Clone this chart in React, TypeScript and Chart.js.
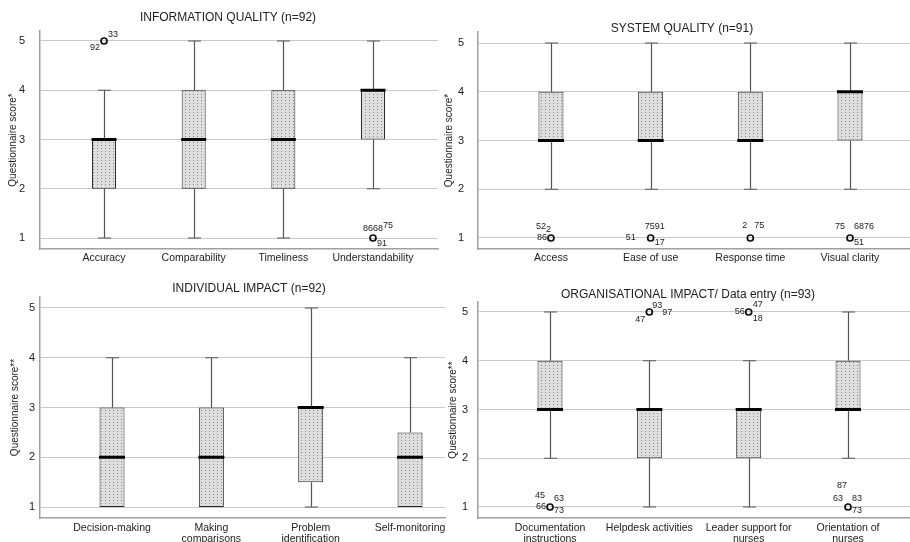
import React, { useEffect, useRef } from 'react';
import { Chart, registerables } from 'chart.js';

Chart.register(...registerables);

const FONT = '"Liberation Sans", Arial, Helvetica, sans-serif';

// ---------- Panel 1: INFORMATION QUALITY ----------
const IQ_TITLE = 'INFORMATION QUALITY (n=92)';
const IQ_Y_TITLE = 'Questionnaire score*';
const IQ_CATEGORIES = ['Accuracy', 'Comparability', 'Timeliness', 'Understandability'];
const IQ_MIN = [1, 1, 1, 2];
const IQ_Q1 = [2, 2, 2, 3];
const IQ_MEDIAN = [3, 3, 3, 4];
const IQ_Q3 = [3, 4, 4, 4];
const IQ_MAX = [4, 5, 5, 5];
const IQ_OUTLIERS = [
  { cat: 0, value: 5, ids: ['92', '33'] },
  { cat: 3, value: 1, ids: ['86', '68', '75', '91'] },
];

// ---------- Panel 2: SYSTEM QUALITY ----------
const SQ_TITLE = 'SYSTEM QUALITY (n=91)';
const SQ_Y_TITLE = 'Questionnaire score*';
const SQ_CATEGORIES = ['Access', 'Ease of use', 'Response time', 'Visual clarity'];
const SQ_MIN = [2, 2, 2, 2];
const SQ_Q1 = [3, 3, 3, 3];
const SQ_MEDIAN = [3, 3, 3, 4];
const SQ_Q3 = [4, 4, 4, 4];
const SQ_MAX = [5, 5, 5, 5];
const SQ_OUTLIERS = [
  { cat: 0, value: 1, ids: ['52', '2', '86'] },
  { cat: 1, value: 1, ids: ['51', '75', '91', '17'] },
  { cat: 2, value: 1, ids: ['2', '75'] },
  { cat: 3, value: 1, ids: ['75', '68', '76', '51'] },
];

// ---------- Panel 3: INDIVIDUAL IMPACT ----------
const II_TITLE = 'INDIVIDUAL IMPACT (n=92)';
const II_Y_TITLE = 'Questionnaire score**';
const II_CATEGORIES = ['Decision-making', ['Making', 'comparisons'], ['Problem', 'identification'], 'Self-monitoring'];
const II_MIN = [1, 1, 1, 1];
const II_Q1 = [1, 1, 1.5, 1];
const II_MEDIAN = [2, 2, 3, 2];
const II_Q3 = [3, 3, 3, 2.5];
const II_MAX = [4, 4, 5, 4];
const II_OUTLIERS: { cat: number; value: number; ids: string[] }[] = [];

// ---------- Panel 4: ORGANISATIONAL IMPACT ----------
const OI_TITLE = 'ORGANISATIONAL IMPACT/ Data entry (n=93)';
const OI_Y_TITLE = 'Questionnaire score**';
const OI_CATEGORIES = [['Documentation', 'instructions'], 'Helpdesk activities', ['Leader support for', 'nurses'], ['Orientation of', 'nurses']];
const OI_MIN = [2, 1, 1, 2];
const OI_Q1 = [3, 2, 2, 3];
const OI_MEDIAN = [3, 3, 3, 3];
const OI_Q3 = [4, 3, 3, 4];
const OI_MAX = [5, 4, 4, 5];
const OI_OUTLIERS = [
  { cat: 0, value: 1, ids: ['45', '63', '66', '73'] },
  { cat: 1, value: 5, ids: ['47', '93', '97'] },
  { cat: 2, value: 5, ids: ['56', '47', '18'] },
  { cat: 3, value: 1, ids: ['87', '63', '83', '73'] },
];

const Y_TICKS = [1, 2, 3, 4, 5];

// Label placement for outlier case numbers (dx, dy, align) — layout only
type Place = [number, number, CanvasTextAlign];
const IQ_ID_PLACES: Place[][] = [
  [[-4, 7, 'right'], [4, -6, 'left']],
  [[0, -10, 'right'], [0, -10, 'left'], [10, -13, 'left'], [4, 5, 'left']],
];
const SQ_ID_PLACES: Place[][] = [
  [[-5, -11, 'right'], [-5, -8, 'left'], [-4, 0, 'right']],
  [[-15, 0, 'right'], [-6, -11, 'left'], [4, -11, 'left'], [4, 5, 'left']],
  [[-3, -12, 'right'], [4, -12, 'left']],
  [[-5, -11, 'right'], [4, -11, 'left'], [14, -11, 'left'], [4, 5, 'left']],
];
const OI_ID_PLACES: Place[][] = [
  [[-5, -11, 'right'], [4, -8, 'left'], [-4, 0, 'right'], [4, 4, 'left']],
  [[-4, 8, 'right'], [3, -6, 'left'], [13, 1, 'left']],
  [[-4, 0, 'right'], [4, -7, 'left'], [4, 7, 'left']],
  [[-6, -21, 'center'], [-5, -8, 'right'], [4, -8, 'left'], [4, 4, 'left']],
];

interface PanelCfg {
  title: string;
  yTitle: string;
  categories: (string | string[])[];
  min: number[];
  q1: number[];
  median: number[];
  q3: number[];
  max: number[];
  outliers: { cat: number; value: number; ids: string[] }[];
  places: Place[][];
  left: number;
  top: number;
  w: number;
  h: number;
  pad: { left: number; top: number; right: number; bottom: number };
  yWidth: number;
  xHeight: number;
  xMin: number;
  xMax: number;
  yMin: number;
  yMax: number;
  yTitlePad: number;
  yTickPad: number;
  xTickPad: number;
  titleX: number;
  titleY: number;
  bar: number;
}

const PANELS: PanelCfg[] = [
  {
    title: IQ_TITLE, yTitle: IQ_Y_TITLE, categories: IQ_CATEGORIES, min: IQ_MIN, q1: IQ_Q1, median: IQ_MEDIAN,
    q3: IQ_Q3, max: IQ_MAX, outliers: IQ_OUTLIERS, places: IQ_ID_PLACES,
    left: 0, top: 0, w: 455, h: 271, pad: { left: 0, top: 31, right: 17, bottom: 0 },
    yWidth: 40, xHeight: 22, xMin: -0.714, xMax: 3.725, yMin: 0.777, yMax: 5.203,
    yTitlePad: 7, yTickPad: 15, xTickPad: 4, titleX: 228, titleY: 18, bar: 24,
  },
  {
    title: SQ_TITLE, yTitle: SQ_Y_TITLE, categories: SQ_CATEGORIES, min: SQ_MIN, q1: SQ_Q1, median: SQ_MEDIAN,
    q3: SQ_Q3, max: SQ_MAX, outliers: SQ_OUTLIERS, places: SQ_ID_PLACES,
    left: 440, top: 0, w: 470, h: 271, pad: { left: 0, top: 32, right: 0, bottom: 0 },
    yWidth: 38, xHeight: 22, xMin: -0.732, xMax: 3.602, yMin: 0.774, yMax: 5.226,
    yTitlePad: 3.5, yTickPad: 14, xTickPad: 4, titleX: 242, titleY: 29, bar: 25,
  },
  {
    title: II_TITLE, yTitle: II_Y_TITLE, categories: II_CATEGORIES, min: II_MIN, q1: II_Q1, median: II_MEDIAN,
    q3: II_Q3, max: II_MAX, outliers: II_OUTLIERS, places: [],
    left: 0, top: 271, w: 455, h: 271, pad: { left: 0, top: 26, right: 10, bottom: 0 },
    yWidth: 40, xHeight: 24, xMin: -0.725, xMax: 3.352, yMin: 0.779, yMax: 5.221,
    yTitlePad: 9, yTickPad: 5, xTickPad: 5, titleX: 249, titleY: 18, bar: 25,
  },
  {
    title: OI_TITLE, yTitle: OI_Y_TITLE, categories: OI_CATEGORIES, min: OI_MIN, q1: OI_Q1, median: OI_MEDIAN,
    q3: OI_Q3, max: OI_MAX, outliers: OI_OUTLIERS, places: OI_ID_PLACES,
    left: 440, top: 271, w: 470, h: 271, pad: { left: 0, top: 31, right: 0, bottom: 0 },
    yWidth: 38, xHeight: 24, xMin: -0.725, xMax: 3.624, yMin: 0.774, yMax: 5.205,
    yTitlePad: 7, yTickPad: 10, xTickPad: 5, titleX: 248, titleY: 24, bar: 25,
  },
];

function makePattern(ctx: CanvasRenderingContext2D): CanvasPattern | string {
  const c = document.createElement('canvas');
  c.width = 4;
  c.height = 3;
  const g = c.getContext('2d');
  if (!g) return '#d4d4d4';
  g.fillStyle = '#dedede';
  g.fillRect(0, 0, 4, 3);
  g.fillStyle = '#8a8a8a';
  g.fillRect(1, 1, 1, 1);
  return ctx.createPattern(c, 'repeat') || '#d4d4d4';
}

function BoxPanel({ p }: { p: PanelCfg }) {
  const ref = useRef<HTMLCanvasElement>(null);
  useEffect(() => {
    const canvas = ref.current;
    if (!canvas) return;
    const ctx2d = canvas.getContext('2d')!;
    const pattern = makePattern(ctx2d);

    const decor = {
      id: 'boxDecor',
      beforeDatasetsDraw(chart: any) {
        const { ctx, scales } = chart;
        const xs = scales.x;
        const ys = scales.y;
        ctx.save();
        ctx.strokeStyle = '#555555';
        ctx.lineWidth = 1.2;
        const cap = 6.5;
        p.categories.forEach((_, i) => {
          const x = Math.round(xs.getPixelForValue(i)) + 0.5;
          const yq1 = ys.getPixelForValue(p.q1[i]);
          const yq3 = ys.getPixelForValue(p.q3[i]);
          const ymin = ys.getPixelForValue(p.min[i]);
          const ymax = ys.getPixelForValue(p.max[i]);
          ctx.beginPath();
          if (p.max[i] > p.q3[i]) {
            ctx.moveTo(x, yq3);
            ctx.lineTo(x, ymax);
            ctx.moveTo(x - cap, ymax);
            ctx.lineTo(x + cap, ymax);
          }
          if (p.min[i] < p.q1[i]) {
            ctx.moveTo(x, yq1);
            ctx.lineTo(x, ymin);
            ctx.moveTo(x - cap, ymin);
            ctx.lineTo(x + cap, ymin);
          }
          ctx.stroke();
        });
        ctx.restore();
      },
      afterDatasetsDraw(chart: any) {
        const { ctx, scales } = chart;
        const xs = scales.x;
        const ys = scales.y;
        ctx.save();
        // medians
        ctx.strokeStyle = '#000000';
        ctx.lineWidth = 3;
        const half = p.bar / 2 + 0.5;
        p.categories.forEach((_, i) => {
          const x = xs.getPixelForValue(i);
          const y = ys.getPixelForValue(p.median[i]);
          ctx.beginPath();
          ctx.moveTo(x - half, y);
          ctx.lineTo(x + half, y);
          ctx.stroke();
        });
        // outlier case labels
        ctx.fillStyle = '#222222';
        ctx.font = `9px ${FONT}`;
        ctx.textBaseline = 'middle';
        p.outliers.forEach((o, k) => {
          const x = xs.getPixelForValue(o.cat);
          const y = ys.getPixelForValue(o.value);
          o.ids.forEach((id, j) => {
            const pl = (p.places[k] && p.places[k][j]) || [4, 0, 'left'];
            ctx.textAlign = pl[2];
            ctx.fillText(id, x + pl[0], y + pl[1]);
          });
        });
        // panel title
        ctx.fillStyle = '#222222';
        ctx.font = `12px ${FONT}`;
        ctx.textAlign = 'center';
        ctx.textBaseline = 'middle';
        ctx.fillText(p.title, p.titleX, p.titleY);
        ctx.restore();
      },
    };

    const chart = new Chart(canvas, {
      type: 'bar',
      data: {
        datasets: [
          {
            type: 'bar',
            data: p.categories.map((_, i) => ({ x: i, y: [p.q1[i], p.q3[i]] })) as any,
            backgroundColor: pattern as any,
            borderColor: '#2a2a2a',
            borderWidth: 1,
            borderSkipped: false,
            barThickness: p.bar,
            inflateAmount: 0,
          } as any,
          {
            type: 'scatter',
            data: p.outliers.map((o) => ({ x: o.cat, y: o.value })),
            pointStyle: 'circle',
            pointRadius: 3,
            pointBorderWidth: 1.7,
            borderColor: '#111111',
            backgroundColor: 'rgba(255,255,255,0)',
            pointBackgroundColor: 'rgba(255,255,255,0)',
            pointBorderColor: '#111111',
          } as any,
        ],
      },
      options: {
        responsive: false,
        animation: false,
        events: [],
        layout: { padding: p.pad, autoPadding: false },
        plugins: {
          legend: { display: false },
          title: { display: false },
          tooltip: { enabled: false },
        },
        scales: {
          x: {
            type: 'linear',
            min: p.xMin,
            max: p.xMax,
            offset: false,
            grid: { display: false, offset: false, drawTicks: false },
            border: { display: true, color: '#a0a0a0', width: 1.5 },
            ticks: {
              autoSkip: false,
              maxRotation: 0,
              minRotation: 0,
              padding: p.xTickPad,
              color: '#222222',
              font: { family: FONT, size: 10.5, lineHeight: 1.0 },
              callback: (v: any) => p.categories[Math.round(Number(v))] as any,
            },
            afterBuildTicks: (s: any) => {
              s.ticks = p.categories.map((_, i) => ({ value: i }));
            },
            afterFit: (s: any) => {
              s.height = p.xHeight;
              s.paddingLeft = 0;
              s.paddingRight = 0;
            },
          } as any,
          y: {
            type: 'linear',
            min: p.yMin,
            max: p.yMax,
            beginAtZero: false,
            grid: { color: '#c9c9c9', lineWidth: 1, drawTicks: false },
            border: { display: true, color: '#a0a0a0', width: 1.5 },
            ticks: {
              padding: p.yTickPad,
              color: '#222222',
              font: { family: FONT, size: 11 },
              callback: (v: any) => String(v),
            },
            afterBuildTicks: (s: any) => {
              s.ticks = Y_TICKS.map((v) => ({ value: v }));
            },
            afterFit: (s: any) => {
              s.width = p.yWidth;
              s.paddingTop = 0;
              s.paddingBottom = 0;
            },
            title: {
              display: true,
              text: p.yTitle,
              color: '#222222',
              font: { family: FONT, size: 10 },
              padding: { top: p.yTitlePad, bottom: 0 },
            },
          } as any,
        },
      },
      plugins: [decor],
    });
    return () => chart.destroy();
  }, [p]);
  return (
    <canvas
      ref={ref}
      width={p.w}
      height={p.h}
      style={{ position: 'absolute', left: p.left, top: p.top, width: p.w, height: p.h }}
    />
  );
}

export default function App() {
  return (
    <div
      style={{
        position: 'absolute',
        left: 0,
        top: 0,
        width: 910,
        height: 542,
        background: '#ffffff',
        overflow: 'hidden',
      }}
    >
      {PANELS.map((p, i) => (
        <BoxPanel key={i} p={p} />
      ))}
    </div>
  );
}
